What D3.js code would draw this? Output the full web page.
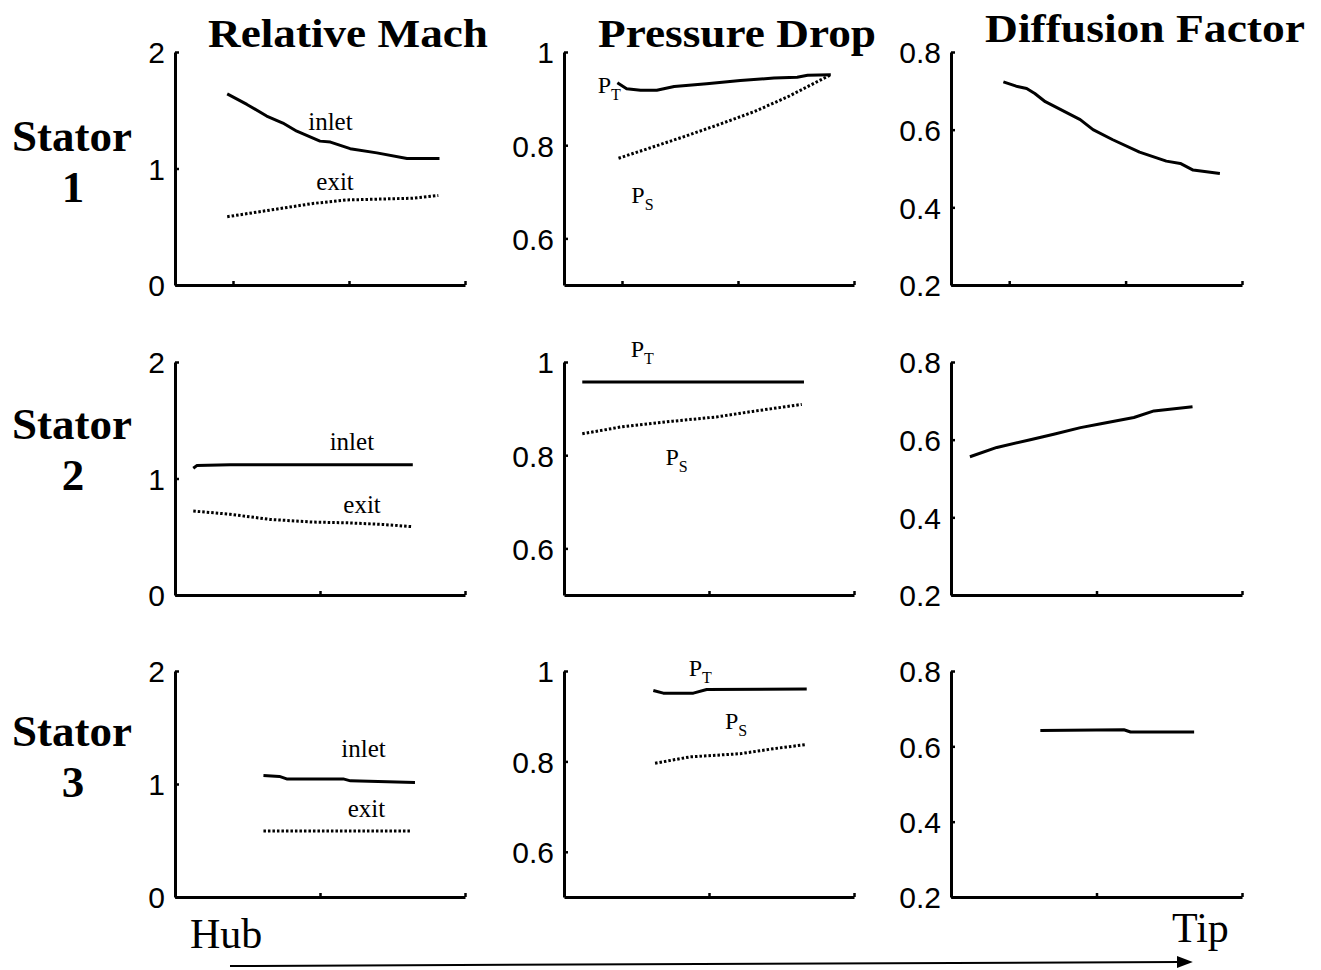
<!DOCTYPE html>
<html>
<head>
<meta charset="utf-8">
<script src="https://cdn.jsdelivr.net/npm/d3@7"></script>
<style>
  body { margin: 0; background: #fff; }
  svg { display: block; }
  .tick text { font-family: "Liberation Sans", Arial, sans-serif; font-size: 30px; fill: #000; }
  .serif { font-family: "Liberation Serif", "Times New Roman", serif; fill: #000; }
</style>
</head>
<body>
<svg id="chart" width="1321" height="970"></svg>
<script>
// column titles, row names
var colTitles = ["Relative Mach", "Pressure Drop", "Diffusion Factor"];
var rowNames = ["1", "2", "3"];

// axis domains and ticks
var yDomains = [[0, 2], [0.5, 1], [0.2, 0.8]];
var yTicks = [[0, 1, 2], [0.6, 0.8, 1], [0.2, 0.4, 0.6, 0.8]];
var xDomains = [[0.5, 3], [0, 2], [0, 2]];
var xTicks = [[1, 2, 3], [1, 2], [1, 2]];

// stator 1  [radial position, value]
var s1Inlet = [[0.95, 1.64], [1.12, 1.55], [1.29, 1.45], [1.43, 1.39], [1.55, 1.32], [1.75, 1.235],
  [1.84, 1.227], [2.01, 1.17], [2.24, 1.134], [2.5, 1.085], [2.78, 1.085]];
var s1Exit = [[0.95, 0.586], [1.32, 0.643], [1.69, 0.70], [1.98, 0.73], [2.55, 0.745], [2.77, 0.768]];
var s1Pt = [[0.96, 0.934], [1.04, 0.921], [1.16, 0.918], [1.3, 0.918], [1.45, 0.926], [1.73, 0.932],
  [2.02, 0.939], [2.31, 0.944], [2.51, 0.946], [2.6, 0.95], [2.8, 0.951]];
var s1Ps = [[0.97, 0.772], [1.24, 0.794], [1.53, 0.818], [1.82, 0.843], [2.14, 0.872], [2.43, 0.904], [2.79, 0.95]];
var s1Df = [[0.95, 0.723], [1.06, 0.712], [1.15, 0.706], [1.22, 0.693], [1.31, 0.672], [1.61, 0.626],
  [1.72, 0.60], [1.89, 0.574], [2.12, 0.542], [2.35, 0.519], [2.47, 0.513], [2.58, 0.496], [2.81, 0.487]];

// stator 2
var s2Inlet = [[0.126, 1.088], [0.15, 1.111], [0.38, 1.117], [1.0, 1.118], [1.64, 1.117]];
var s2Exit = [[0.126, 0.721], [0.38, 0.693], [0.655, 0.649], [0.95, 0.626], [1.18, 0.62], [1.43, 0.606], [1.64, 0.586]];
var s2Pt = [[0.126, 0.957], [1.655, 0.957]];
var s2Ps = [[0.126, 0.846], [0.4, 0.861], [0.75, 0.873], [1.05, 0.882], [1.3, 0.894], [1.64, 0.909]];
var s2Df = [[0.13, 0.556], [0.315, 0.580], [0.545, 0.60], [0.706, 0.614], [0.89, 0.631], [1.03, 0.641],
  [1.257, 0.657], [1.395, 0.674], [1.66, 0.685]];

// stator 3
var s3Inlet = [[0.61, 1.076], [0.72, 1.067], [0.77, 1.045], [1.16, 1.045], [1.21, 1.028], [1.655, 1.013]];
var s3Exit = [[0.61, 0.583], [1.62, 0.583]];
var s3Pt = [[0.616, 0.957], [0.685, 0.951], [0.892, 0.951], [0.984, 0.959], [1.674, 0.96]];
var s3Ps = [[0.628, 0.796], [0.869, 0.810], [1.214, 0.817], [1.443, 0.828], [1.662, 0.837]];
var s3Df = [[0.614, 0.642], [1.188, 0.644], [1.234, 0.638], [1.671, 0.638]];

// curve labels [x, y] in data units
var machLabels = [
  [["inlet", 1.84, 1.33], ["exit", 1.88, 0.815]],
  [["inlet", 1.22, 1.245], ["exit", 1.29, 0.706]],
  [["inlet", 1.3, 1.242], ["exit", 1.32, 0.711]]
];
var presLabels = [
  [["T", 0.79, 0.912], ["S", 1.08, 0.675]],
  [["T", 0.46, 1.011], ["S", 0.70, 0.779]],
  [["T", 0.86, 0.99], ["S", 1.11, 0.872]]
];

var series = [
  [[s1Inlet, s1Exit], [s1Pt, s1Ps], [s1Df]],
  [[s2Inlet, s2Exit], [s2Pt, s2Ps], [s2Df]],
  [[s3Inlet, s3Exit], [s3Pt, s3Ps], [s3Df]]
];

var svg = d3.select("#chart");
var colX = [[175, 465], [564, 854], [951, 1242]];
var rowY = [[52, 285], [362, 595], [671, 897]];

rowY.forEach(function(ry, r) {
  colX.forEach(function(cx, c) {
    var x = d3.scaleLinear().domain(xDomains[r]).range(cx);
    var y = d3.scaleLinear().domain(yDomains[c]).range([ry[1], ry[0]]);
    var g = svg.append("g");

    var yAxis = g.append("g")
      .attr("transform", "translate(" + cx[0] + ",0)")
      .call(d3.axisLeft(y).tickValues(yTicks[c]).tickSize(-4).tickSizeOuter(0).tickPadding(10).tickFormat(String));
    var xAxis = g.append("g")
      .attr("transform", "translate(0," + ry[1] + ")")
      .call(d3.axisBottom(x).tickValues(xTicks[r]).tickSize(-4).tickSizeOuter(0).tickFormat(""));
    [yAxis, xAxis].forEach(function(a) {
      a.select(".domain").attr("stroke", "#000").attr("stroke-width", 3);
      a.selectAll(".tick line").attr("stroke", "#000").attr("stroke-width", 2.5);
    });
    yAxis.selectAll(".tick text").attr("dy", "0.36em");

    var line = d3.line().x(function(d) { return x(d[0]); }).y(function(d) { return y(d[1]); });
    series[r][c].forEach(function(s, i) {
      g.append("path")
        .datum(s)
        .attr("d", line)
        .attr("fill", "none")
        .attr("stroke", "#000")
        .attr("stroke-width", 3)
        .attr("stroke-linejoin", "round")
        .attr("stroke-dasharray", i === 1 ? "2.5,2" : null);
    });

    if (c === 0) {
      machLabels[r].forEach(function(l) {
        g.append("text").attr("class", "serif")
          .attr("x", x(l[1])).attr("y", y(l[2]))
          .attr("text-anchor", "middle")
          .style("font-size", "25px")
          .text(l[0]);
      });
    }
    if (c === 1) {
      presLabels[r].forEach(function(l) {
        var t = g.append("text").attr("class", "serif")
          .attr("x", x(l[1])).attr("y", y(l[2]))
          .style("font-size", "24px");
        t.append("tspan").text("P");
        t.append("tspan").attr("dy", 7).style("font-size", "16px").text(l[0]);
      });
    }
  });
});

// column titles
var titleX = [[208, 280, 47], [598, 278, 47], [985, 320, 42]];
colTitles.forEach(function(t, i) {
  svg.append("text").attr("class", "serif")
    .attr("x", titleX[i][0]).attr("y", titleX[i][2])
    .attr("textLength", titleX[i][1]).attr("lengthAdjust", "spacingAndGlyphs")
    .style("font-size", "41px").style("font-weight", "bold")
    .text(t);
});

// row names
var rowBase = [151, 439, 746];
rowNames.forEach(function(n, i) {
  svg.append("text").attr("class", "serif")
    .attr("x", 72).attr("y", rowBase[i]).attr("text-anchor", "middle")
    .style("font-size", "45px").style("font-weight", "bold")
    .text("Stator");
  svg.append("text").attr("class", "serif")
    .attr("x", 73).attr("y", rowBase[i] + 51).attr("text-anchor", "middle")
    .style("font-size", "45px").style("font-weight", "bold")
    .text(n);
});

// hub to tip arrow
svg.append("defs").append("marker")
  .attr("id", "arrow").attr("viewBox", "0 0 10 10")
  .attr("refX", 2).attr("refY", 5)
  .attr("markerWidth", 16).attr("markerHeight", 12)
  .attr("markerUnits", "userSpaceOnUse")
  .attr("orient", "auto")
  .attr("preserveAspectRatio", "none")
  .append("path").attr("d", "M0,0 L10,5 L0,10 Z").attr("fill", "#000");
svg.append("line")
  .attr("x1", 230).attr("y1", 966).attr("x2", 1180).attr("y2", 962)
  .attr("stroke", "#000").attr("stroke-width", 2)
  .attr("marker-end", "url(#arrow)");
svg.append("text").attr("class", "serif").attr("x", 190).attr("y", 948)
  .style("font-size", "42px").text("Hub");
svg.append("text").attr("class", "serif").attr("x", 1172).attr("y", 942)
  .style("font-size", "42px").text("Tip");
</script>
</body>
</html>
